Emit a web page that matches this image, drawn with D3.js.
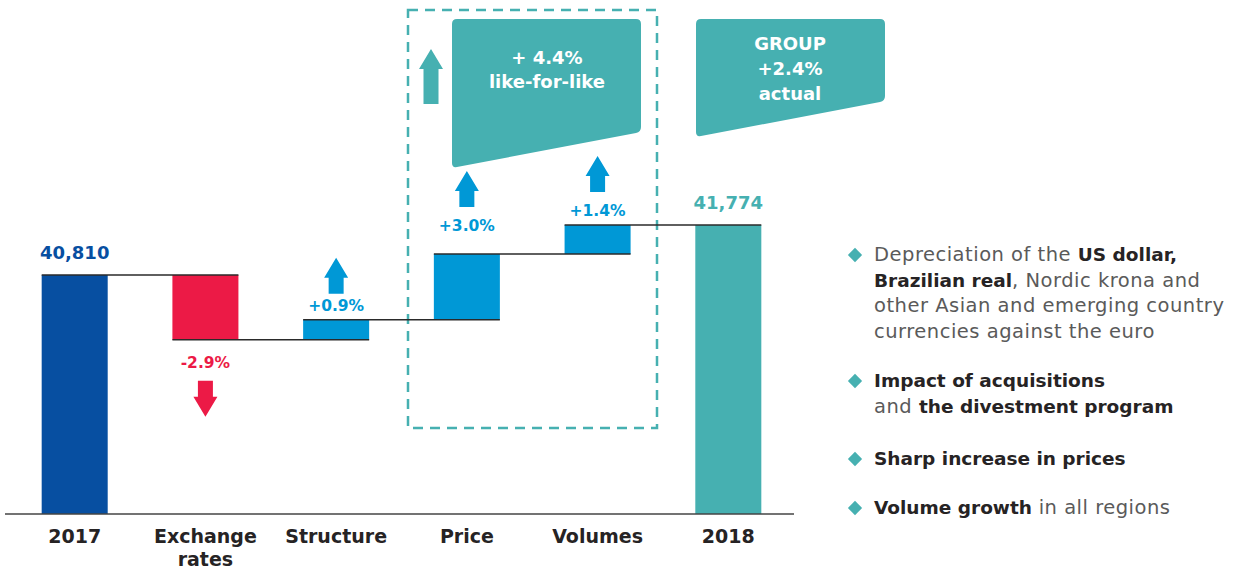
<!DOCTYPE html>
<html>
<head>
<meta charset="utf-8">
<script src="https://cdn.jsdelivr.net/npm/d3@7"></script>
<style>
  body { margin: 0; background: #fff; }
  .wide { font-family: "DejaVu Sans", Verdana, sans-serif; }
</style>
</head>
<body>
<div id="chart"></div>
<script>
// data
var categories = ['2017', 'Exchange rates', 'Structure', 'Price', 'Volumes', '2018'],
    deltas = [40810, -1250, 385, 1270, 559, 41774],
    value_labels = ['40,810', '-2.9%', '+0.9%', '+3.0%', '+1.4%', '41,774'],
    kinds = ['total', 'down', 'up', 'up', 'up', 'total'];

var lfl_lines = ['+ 4.4%', 'like-for-like'],
    group_lines = ['GROUP', '+2.4%', 'actual'];

var notes = [
  [[['Depreciation of the ', 0], ['US dollar,', 1]],
   [['Brazilian real', 1], [', Nordic krona and', 0]],
   [['other Asian and emerging country', 0]],
   [['currencies against the euro', 0]]],
  [[['Impact of acquisitions', 1]],
   [['and ', 0], ['the divestment program', 1]]],
  [[['Sharp increase in prices', 1]]],
  [[['Volume growth', 1], [' in all regions', 0]]]
];

// colours
var c_blue_dark = '#074fa1', c_red = '#ec1a46', c_blue = '#0098d6',
    c_teal = '#46b0b1', c_text = '#262324';

var width = 1243, height = 569;

// waterfall levels
var steps = [];
var level = 0;
deltas.forEach(function(d, i) {
  if (kinds[i] === 'total') { steps.push({i: i, y0: 36200, y1: d}); level = d; }
  else { steps.push({i: i, y0: level, y1: level + d}); level += d; }
});

// scales
var x = d3.scaleBand().domain(categories).range([9, 794]).paddingInner(0.495).paddingOuter(0.25),
    y = d3.scaleLinear().domain([36200, 41774]).range([514, 225]);

var svg = d3.select('#chart').append('svg')
    .attr('width', width)
    .attr('height', height);

// dashed like-for-like box
svg.append('rect')
    .attr('x', 408).attr('y', 10)
    .attr('width', 249).attr('height', 418)
    .attr('fill', 'none')
    .attr('stroke', c_teal)
    .attr('stroke-width', 2.5)
    .attr('stroke-dasharray', '10,7');

// bars
function barColor(k, i) {
  if (k === 'down') return c_red;
  if (k === 'up') return c_blue;
  return i === 0 ? c_blue_dark : c_teal;
}
svg.append('g').selectAll('rect')
  .data(steps)
  .enter().append('rect')
    .attr('x', function(d) { return x(categories[d.i]); })
    .attr('width', x.bandwidth())
    .attr('y', function(d) { return y(Math.max(d.y0, d.y1)); })
    .attr('height', function(d) { return Math.abs(y(d.y0) - y(d.y1)); })
    .attr('fill', function(d) { return barColor(kinds[d.i], d.i); });

// connectors
svg.append('g').selectAll('line')
  .data(steps.slice(0, -1))
  .enter().append('line')
    .attr('x1', function(d) { return x(categories[d.i]); })
    .attr('x2', function(d) { return x(categories[d.i + 1]) + x.bandwidth(); })
    .attr('y1', function(d) { return y(d.y1); })
    .attr('y2', function(d) { return y(d.y1); })
    .attr('stroke', '#2a2a2a')
    .attr('stroke-width', 1.5);

// baseline
svg.append('line')
    .attr('x1', 5).attr('x2', 794)
    .attr('y1', y(36200)).attr('y2', y(36200))
    .attr('stroke', '#444').attr('stroke-width', 1.5);

// category labels
var cat_g = svg.append('g');
categories.forEach(function(c) {
  var t = cat_g.append('text')
      .attr('class', 'wide')
      .attr('x', x(c) + x.bandwidth() / 2)
      .attr('y', 543)
      .attr('text-anchor', 'middle')
      .attr('font-size', 19)
      .attr('font-weight', 'bold')
      .attr('fill', c_text);
  c.split(' ').forEach(function(w, j) {
    t.append('tspan').attr('x', x(c) + x.bandwidth() / 2).attr('dy', j ? 23 : 0).text(w);
  });
});

// arrow path
function arrow(cx, base, dir, len) {
  len = len || 36;
  var hh = 20, hw = 12, sw = 7.5;
  var tip = base - dir * len, neck = tip + dir * hh;
  return 'M' + (cx - sw) + ',' + base + 'L' + (cx - sw) + ',' + neck +
         'L' + (cx - hw) + ',' + neck + 'L' + cx + ',' + tip +
         'L' + (cx + hw) + ',' + neck + 'L' + (cx + sw) + ',' + neck +
         'L' + (cx + sw) + ',' + base + 'Z';
}

// value labels and arrows
var lift = {'Price': 23};
steps.forEach(function(d) {
  var c = categories[d.i], k = kinds[d.i], cx = x(c) + x.bandwidth() / 2;
  var col = barColor(k, d.i), ly;
  if (k === 'down') ly = y(d.y1) + 28;
  else ly = y(Math.max(d.y0, d.y1)) - (lift[c] || (k === 'total' ? 16 : 9));
  svg.append('text')
      .attr('class', 'wide')
      .attr('x', cx).attr('y', ly)
      .attr('text-anchor', 'middle')
      .attr('font-size', k === 'total' ? 18 : 15.5)
      .attr('font-weight', 'bold')
      .attr('fill', col)
      .text(value_labels[d.i]);
  if (k === 'up') {
    svg.append('path').attr('d', arrow(cx, ly - 17 - (c === 'Structure' ? 0 : 7), 1)).attr('fill', col);
  } else if (k === 'down') {
    svg.append('path').attr('d', arrow(cx, ly + 13, -1)).attr('fill', col);
  }
});

// callout shapes
function callout(x0, x1, top, bR, bL) {
  var r = 5;
  return 'M' + (x0 + r) + ',' + top + 'L' + (x1 - r) + ',' + top +
         'Q' + x1 + ',' + top + ' ' + x1 + ',' + (top + r) +
         'L' + x1 + ',' + (bR - r) + 'Q' + x1 + ',' + bR + ' ' + (x1 - r) + ',' + (bR + 1) +
         'L' + (x0 + r) + ',' + (bL - 1) + 'Q' + x0 + ',' + bL + ' ' + x0 + ',' + (bL - r) +
         'L' + x0 + ',' + (top + r) + 'Q' + x0 + ',' + top + ' ' + (x0 + r) + ',' + top + 'Z';
}
svg.append('path').attr('d', callout(452, 641, 19, 132, 168)).attr('fill', c_teal);
svg.append('path').attr('d', callout(696, 885, 19, 101, 137)).attr('fill', c_teal);
svg.append('path').attr('d', arrow(431, 104, 1, 55)).attr('fill', c_teal);

svg.append('g').selectAll('text')
  .data(lfl_lines).enter().append('text')
    .attr('class', 'wide')
    .attr('x', 547).attr('y', function(d, i) { return 64 + i * 24; })
    .attr('text-anchor', 'middle')
    .attr('font-size', 18).attr('font-weight', 'bold')
    .attr('fill', '#fff').text(function(d) { return d; });

svg.append('g').selectAll('text')
  .data(group_lines).enter().append('text')
    .attr('class', 'wide')
    .attr('x', 790).attr('y', function(d, i) { return 50 + i * 25; })
    .attr('text-anchor', 'middle')
    .attr('font-size', 18).attr('font-weight', 'bold')
    .attr('fill', '#fff').text(function(d) { return d; });

// notes
var line_h = 25.5, note_y = [261, 387, 465, 514];
notes.forEach(function(n, i) {
  svg.append('path')
      .attr('d', d3.symbol(d3.symbolDiamond2, 130)())
      .attr('transform', 'translate(855,' + (note_y[i] - 6) + ')')
      .attr('fill', c_teal);
  n.forEach(function(ln, j) {
    var t = svg.append('text')
        .attr('class', 'wide')
        .attr('x', 874).attr('y', note_y[i] + j * line_h);
    ln.forEach(function(seg) {
      t.append('tspan')
          .attr('font-weight', seg[1] ? 'bold' : 'normal')
          .attr('font-size', seg[1] ? 18.5 : 19.5)
          .attr('letter-spacing', seg[1] ? 0 : 0.5)
          .attr('fill', seg[1] ? c_text : '#5a5a5a')
          .text(seg[0]);
    });
  });
});
</script>
</body>
</html>
